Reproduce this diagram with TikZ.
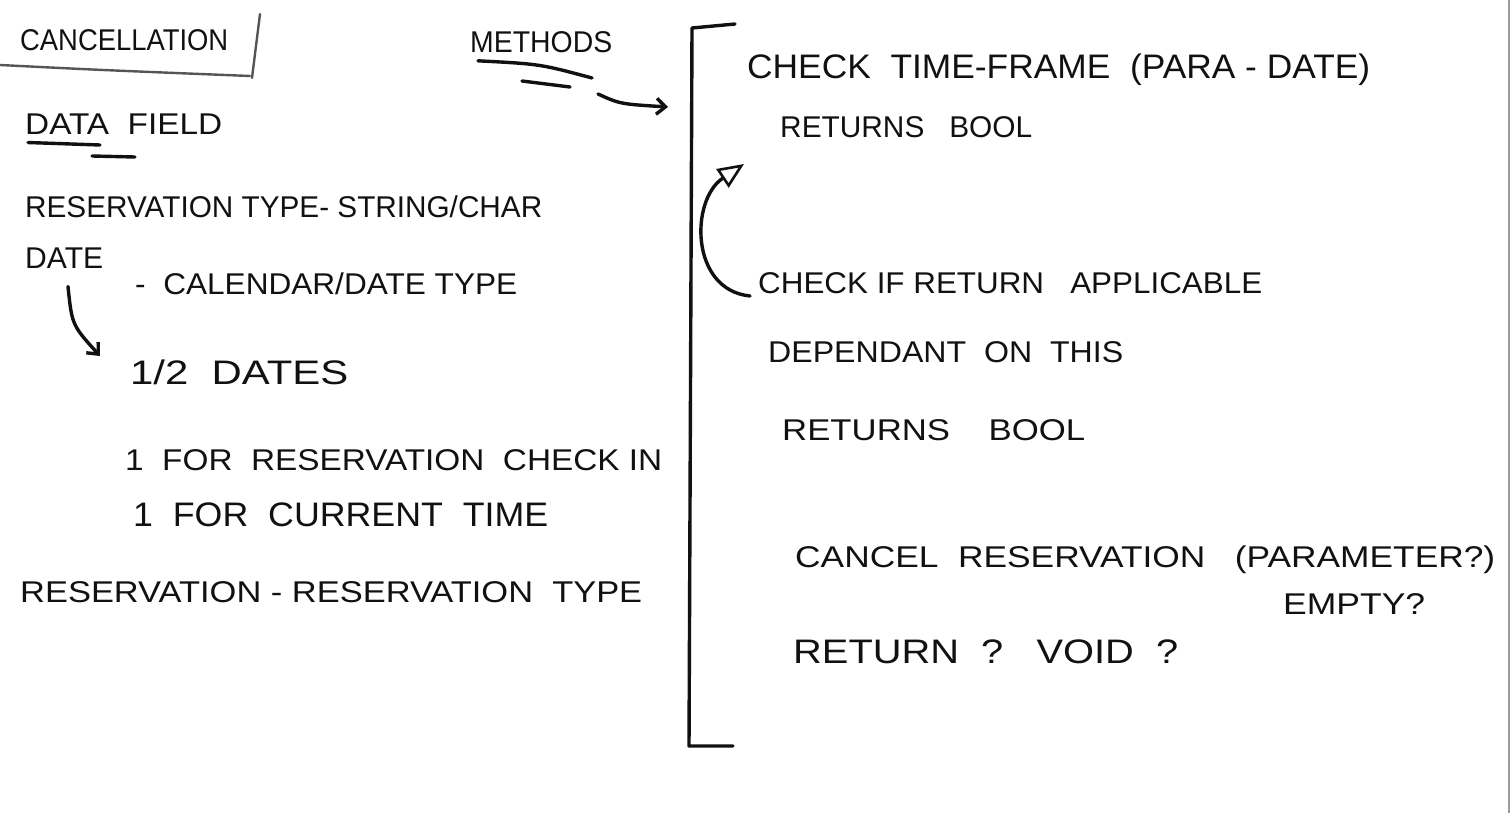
\documentclass[tikz,border=0pt]{standalone}
\usepackage{fontspec}
\setmainfont{Liberation Sans}
\usepackage{graphicx}
\usepackage{xcolor}
\usetikzlibrary{arrows.meta}
\definecolor{ink}{HTML}{111111}
\definecolor{soft}{HTML}{555555}
\definecolor{edge}{HTML}{9A9A9A}
% stretch a line of text to a given width, keep its height
\newcommand{\spread}[2]{\resizebox{#1pt}{\height}{#2}}
\tikzset{
  pen/.style={draw=ink, line width=3.4pt, line cap=round, line join=round},
  thin/.style={draw=soft, line width=2.4pt, line cap=round},
  arr/.style={pen, -{Straight Barb[length=9pt,width=16pt]}},
  tri/.style={pen, -{Triangle[open,length=26pt,width=22pt,line width=2.6pt]}},
  hand/.style={anchor=west, inner sep=0pt, text=ink, font=\fontsize{30}{33}\selectfont},
  big/.style={hand, font=\fontsize{34}{37}\selectfont},
}
\begin{document}
\begin{tikzpicture}[x=1pt,y=-1pt]
  \useasboundingbox[fill=white] (0,0) rectangle (1512,813);
  \draw[edge, line width=1.5pt] (1509,0) -- (1509,813);

  % left column
  \node[hand] (cancel) at (20,40) {\spread{208}{CANCELLATION}};
  \node[hand] (methods) at (470,42) {\spread{142}{METHODS}};
  \node[hand] (field) at (25,124) {\spread{197}{DATA\ \ FIELD}};
  \node[hand] (restype) at (25,207) {\spread{517}{RESERVATION TYPE- STRING/CHAR}};
  \node[hand] (date) at (25,258) {\spread{78}{DATE}};
  \node[hand] (caltype) at (135,284) {\spread{382}{-\ \ CALENDAR/DATE TYPE}};
  \node[big] (dates) at (130,372) {\spread{218}{1/2\ \ DATES}};
  \node[hand] (checkin) at (125,460) {\spread{537}{1\ \ FOR\ \ RESERVATION\ \ CHECK IN}};
  \node[big] (current) at (133,515) {\spread{415}{1\ \ FOR\ \ CURRENT\ \ TIME}};
  \node[hand] (resres) at (20,592) {\spread{622}{RESERVATION - RESERVATION\ \ TYPE}};

  % right column
  \node[big] (timeframe) at (747,70) {\spread{623}{CHECK\ \ TIME-FRAME\ \ (PARA - DATE)}};
  \node[hand] (bool1) at (780,127) {\spread{252}{RETURNS\ \ \ BOOL}};
  \node[hand] (checkif) at (758,283) {\spread{504}{CHECK IF RETURN\ \ \ APPLICABLE}};
  \node[hand] (depend) at (768,352) {\spread{355}{DEPENDANT\ \ ON\ \ THIS}};
  \node[hand] (bool2) at (782,430) {\spread{303}{RETURNS\ \ \ \ BOOL}};
  \node[hand] (cancelres) at (795,560) {\spread{700}{CANCEL\ \ RESERVATION\ \ \ (PARAMETER?)}};
  \node[hand] (empty) at (1283,604) {\spread{142}{EMPTY?}};
  \node[big] (retvoid) at (793,652) {\spread{385}{RETURN\ \ ?\ \ \ VOID\ \ ?}};

  % underlines and frame
  \draw[thin] (0,65) .. controls (100,70) .. (250,76);
  \draw[thin] (260,14) -- (252,78);
  \draw[pen] ([xshift=8pt,yshift=-8pt]methods.south west) .. controls (540,64) .. (592,78);
  \draw[pen] (522,81) -- (570,87);
  \draw[pen] ([xshift=3pt,yshift=-8pt]field.south west) -- (100,145);
  \draw[pen] (92,156) -- (135,157);

  \coordinate (btop) at (692,28);
  \coordinate (bbot) at (689,746);
  \draw[pen] (735,24) -- (btop) -- (bbot) -- (733,746);

  % arrows
  \draw[arr] (598,94) .. controls (620,104) .. (668,107);
  \draw[arr] ([xshift=43pt,yshift=-18pt]date.south west) .. controls (72,325) .. (100,356);
  \draw[tri] ([xshift=-8pt,yshift=-13pt]checkif.west) .. controls (690,290) and (690,200) .. (744,164);
\end{tikzpicture}
\end{document}
